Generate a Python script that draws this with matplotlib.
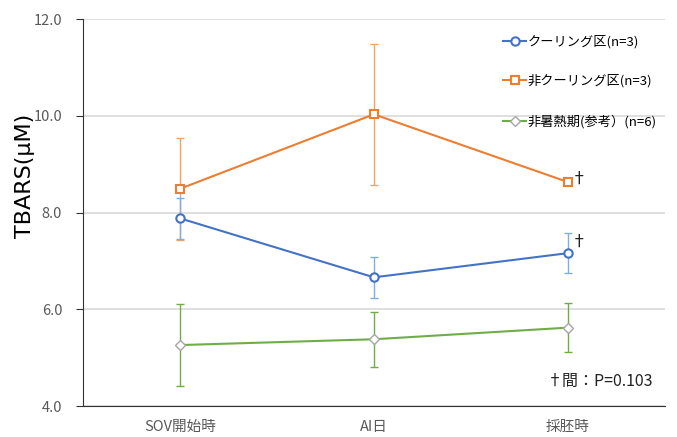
import numpy as np
import matplotlib.pyplot as plt

plt.rcParams['font.family'] = ['Noto Sans CJK JP', 'DejaVu Sans']

# data
categories = ['SOV開始時', 'AI日', '採胚時']
cool_mean = [7.88, 6.66, 7.16]
cool_sd = [0.42, 0.43, 0.41]
noncool_mean = [8.49, 10.03, 8.63]
noncool_sd = [1.05, 1.46, 0.0]
ref_mean = [5.26, 5.38, 5.62]
ref_sd = [0.84, 0.57, 0.50]

labels = ['クーリング区(n=3)', '非クーリング区(n=3)', '非暑熱期(参考）(n=6)']

fig = plt.figure(figsize=(6.77, 4.37), dpi=100)
ax = fig.add_axes([0.1226, 0.0709, 0.8594, 0.8856])

x = np.arange(len(categories)) + 0.5

ax.errorbar(x, ref_mean, yerr=ref_sd, fmt='none', ecolor='#70AD47', elinewidth=1.0,
            capsize=3, capthick=1.0, zorder=2)
ax.errorbar(x, noncool_mean, yerr=noncool_sd, fmt='none', ecolor='#F4A460', elinewidth=1.0,
            capsize=3, capthick=1.0, zorder=2)
ax.errorbar(x, cool_mean, yerr=cool_sd, fmt='none', ecolor='#7FAEE0', elinewidth=1.0,
            capsize=3, capthick=1.0, zorder=2)

ax.plot(x, cool_mean, '-o', color='#4472C4', lw=1.5, ms=6, mfc='white', mec='#4472C4',
        mew=1.5, label=labels[0], zorder=4)
ax.plot(x, noncool_mean, '-s', color='#ED7D31', lw=1.5, ms=6, mfc='white', mec='#ED7D31',
        mew=1.5, label=labels[1], zorder=4)
ax.plot(x, ref_mean, '-D', color='#70AD47', lw=1.5, ms=5, mfc='white', mec='#A5A5A5',
        mew=1.0, label=labels[2], zorder=3)

# significance marks
ax.text(x[2] + 0.015, noncool_mean[2] + 0.05, '†', fontsize=12, color='#222222', va='center')
ax.text(x[2] + 0.015, cool_mean[2] + 0.22, '†', fontsize=12, color='#222222', va='center')
ax.text(2.94, 4.5, '†間：P=0.103', fontsize=11.5, color='#222222', ha='right', va='center')

ax.set_xlim(0, 3)
ax.set_ylim(4.0, 12.0)
ax.set_yticks(np.arange(4.0, 12.1, 2.0))
ax.set_yticklabels([f'{v:.1f}' for v in np.arange(4.0, 12.1, 2.0)])
ax.set_xticks(x)
ax.set_xticklabels(categories)
ax.tick_params(axis='y', direction='out', length=5, colors='#333333', labelcolor='#595959',
               labelsize=10.5, pad=10)
ax.tick_params(axis='x', length=0, labelcolor='#595959', labelsize=10.5, pad=10)
ax.grid(axis='y', color='#D9D9D9', lw=1.2)
ax.set_axisbelow(True)
for s in ['top', 'right']:
    ax.spines[s].set_visible(False)
ax.spines['left'].set_color('#333333')
ax.spines['bottom'].set_color('#333333')

ax.set_ylabel('TBARS(μM)', fontsize=16, family=['DejaVu Sans'])
ax.yaxis.set_label_coords(-0.082, 0.595)

ax.legend(loc='upper right', bbox_to_anchor=(1.0, 0.98), frameon=False, fontsize=9.5,
          labelspacing=2.0, handlelength=1.8, handletextpad=0.1, borderaxespad=0.2,
          facecolor='white')

plt.savefig('out.png')
